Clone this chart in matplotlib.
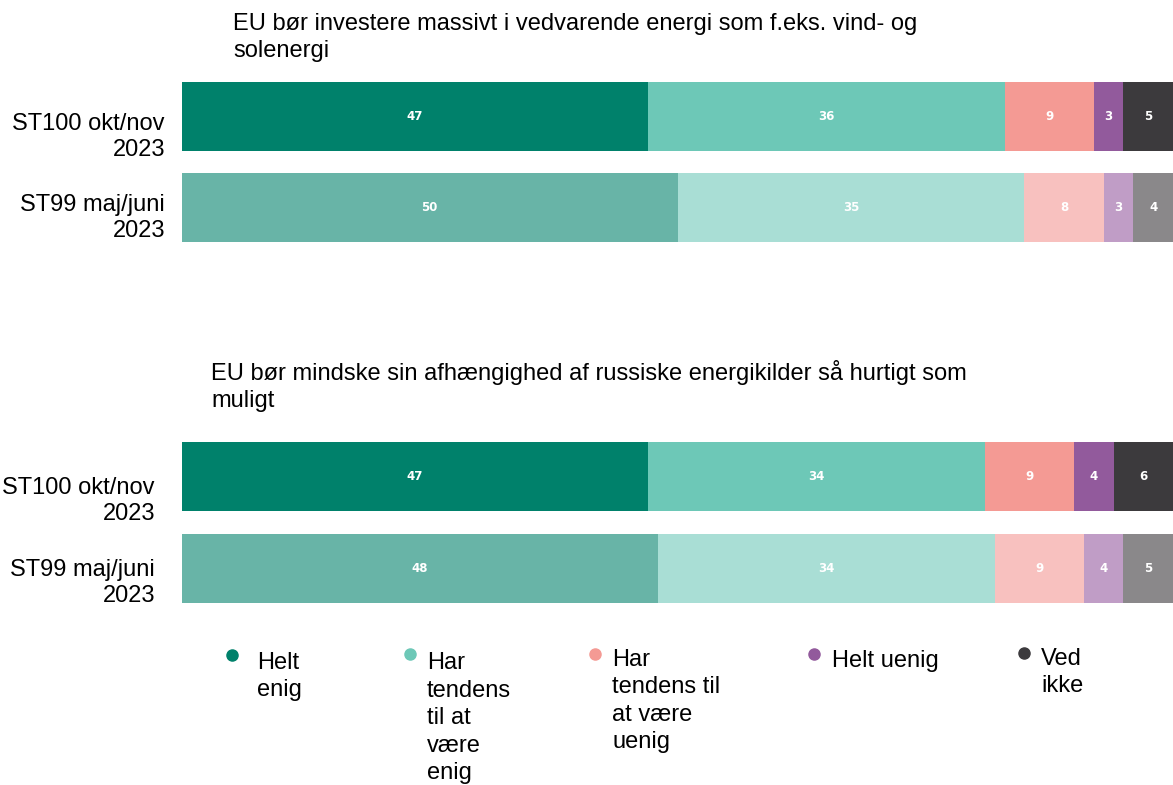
import matplotlib
matplotlib.use("Agg")
import matplotlib.pyplot as plt

plt.rcParams['font.family'] = ['Liberation Sans', 'DejaVu Sans']

titles = ["EU bør investere massivt i vedvarende energi som f.eks. vind- og\nsolenergi",
          "EU bør mindske sin afhængighed af russiske energikilder så hurtigt som\nmuligt"]
waves = ["ST100 okt/nov\n2023", "ST99 maj/juni\n2023"]
categories = ["Helt\nenig", "Har\ntendens\ntil at\nvære\nenig", "Har\ntendens til\nat være\nuenig",
              "Helt uenig", "Ved\nikke"]
q1_values = [[47, 36, 9, 3, 5], [50, 35, 8, 3, 4]]
q2_values = [[47, 34, 9, 4, 6], [48, 34, 9, 4, 5]]

colors_new = ["#00816B", "#6DC8B7", "#F49A94", "#925A9C", "#3C3A3D"]
colors_old = ["#68B4A7", "#A9DED5", "#F8C1BF", "#C09DC6", "#8A888A"]

W, H = 1173, 785
FS = 17
LP = 21.25  # px height of one line at linespacing 1.0
fig = plt.figure(figsize=(W / 100, H / 100), dpi=100)

def px_axes(x0, y0, x1, y1):
    return fig.add_axes([x0 / W, 1 - y1 / H, (x1 - x0) / W, (y1 - y0) / H])

def fy(y):
    return 1 - y / H

def put_text(x, first_baseline, s, ha='left', ls=1.22):
    # matplotlib aligns the last line's baseline with va='baseline'
    n = s.count('\n')
    fig.text(x / W, fy(first_baseline + n * ls * LP), s, ha=ha, va='baseline',
             fontsize=FS, linespacing=ls, multialignment=ha)

def draw_group(ax, values):
    pal = [colors_new, colors_old]
    h = 69 / 91
    for row, vals in enumerate(values):
        left = 0
        for i, v in enumerate(vals):
            ax.barh(row, v, left=left, height=h, color=pal[row][i], edgecolor='none')
            ax.text(left + v / 2, row, str(v), ha='center', va='center', color='white',
                    fontsize=8.5, fontweight='bold', family='DejaVu Sans')
            left += v
    ax.set_xlim(0, 100)
    ax.set_ylim(1 + 0.5 * h, -0.5 * h)
    ax.set_xticks([])
    ax.set_yticks([])
    for s in ax.spines.values():
        s.set_visible(False)

ax1 = px_axes(182, 82, 1173, 242)
draw_group(ax1, q1_values)
ax2 = px_axes(182, 442, 1173, 603)
draw_group(ax2, q2_values)

# wave labels (first-line baselines)
label_pos = [(165, 130), (165, 211), (155, 494), (155, 576)]
for k, (x, y) in enumerate(label_pos):
    put_text(x, y, waves[k % 2], ha='right')

put_text(233, 30, titles[0], ls=1.27)
put_text(211, 380, titles[1], ls=1.25)

# legend
marker_pos = [(232, 655), (410, 654), (595, 654), (814, 654), (1024, 653)]
text_pos = [(257, 668), (427, 667), (612, 664), (832, 667), (1041, 664)]
for i, cat in enumerate(categories):
    mx, my = marker_pos[i]
    fig.lines.append(plt.Line2D([mx / W], [fy(my)], marker='o', markersize=8,
                                color=colors_new[i], linestyle='none', transform=fig.transFigure))
    tx, ty = text_pos[i]
    put_text(tx, ty, cat, ls=1.32)

fig.savefig("out.png", dpi=100)
